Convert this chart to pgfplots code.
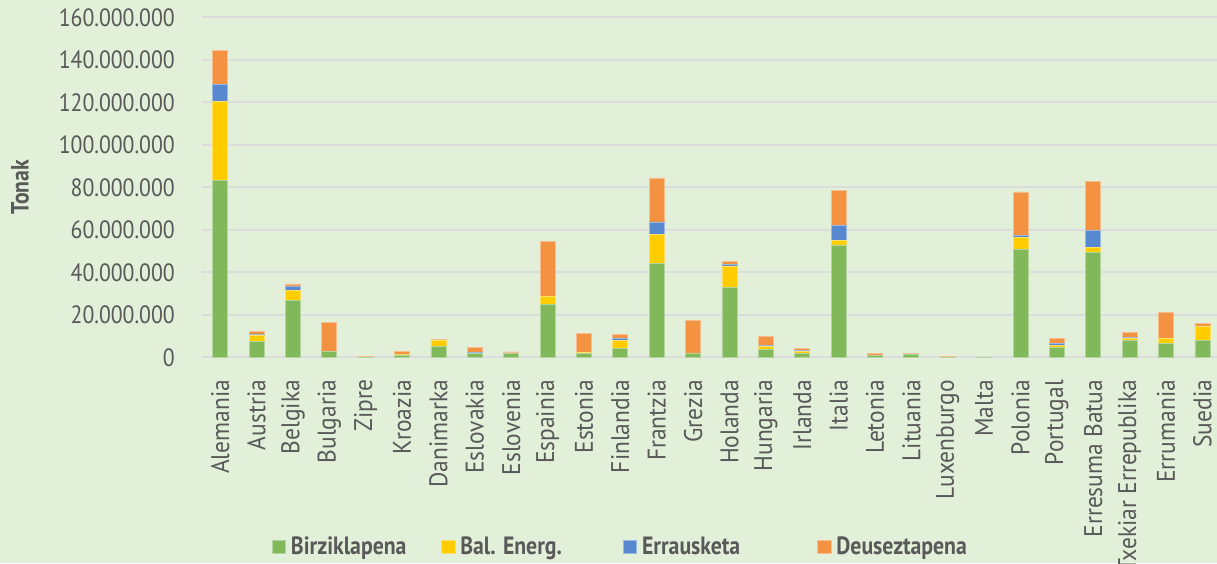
\documentclass[border=0pt]{standalone}
\usepackage{fontspec}
\setmainfont{PT Sans}[FakeStretch=0.87]
\newfontfamily\xlabfamily{PT Sans}[FakeStretch=0.92]
\usepackage{pgfplots}
\pgfplotsset{compat=1.18}
\usepackage{pgfplotstable}
\definecolor{bg}{HTML}{E2EFD9}
\definecolor{gridc}{HTML}{DCDCDC}
\definecolor{txt}{HTML}{595959}
\definecolor{cgreen}{HTML}{80B85A}
\definecolor{cyellow}{HTML}{FFCC00}
\definecolor{cblue}{HTML}{5888D0}
\definecolor{corange}{HTML}{F39341}
\newcommand\tfont{\fontsize{25}{30}\selectfont}
\newcommand\xfont{\xlabfamily\fontsize{25.5}{30}\selectfont}
\pgfplotstableread{
x g y b o
0 83.4 36.9 8.2 16.0
1 7.3 3.2 0.5 1.2
2 26.6 4.7 1.9 1.3
3 2.8 0.1 0.0 13.7
4 0.1 0.0 0.0 0.5
5 1.1 0.1 0.0 1.4
6 5.0 2.8 0.2 0.5
7 1.7 0.3 0.1 2.7
8 1.7 0.1 0.0 0.7
9 24.8 3.7 0.3 25.6
10 1.7 0.5 0.0 9.1
11 4.0 4.1 0.7 2.0
12 44.2 13.7 5.8 20.7
13 1.9 0.1 0.0 15.2
14 32.8 10.2 0.9 1.4
15 3.9 1.4 0.2 4.5
16 2.0 0.8 0.4 1.0
17 52.5 2.4 7.0 16.7
18 0.9 0.0 0.0 0.8
19 1.3 0.1 0.0 0.6
20 0.1 0.0 0.0 0.5
21 0.02 0.0 0.0 0.05
22 51.0 5.6 0.6 20.6
23 4.5 1.0 0.9 2.4
24 49.2 2.7 7.7 23.2
25 7.8 1.0 0.6 2.5
26 6.4 2.4 0.0 12.4
27 7.8 6.6 0.2 1.2
}\data
\begin{document}
\begin{tikzpicture}[x=1pt,y=1pt]
\fill[bg] (0,0) rectangle (1217,563);
\begin{axis}[
  at={(202pt,205.7pt)}, anchor=south west,
  scale only axis, width=1018.6pt, height=340pt,
  xmin=-0.5, xmax=27.5, ymin=0, ymax=160,
  ybar stacked, bar width=15pt,
  axis x line*=bottom, axis y line*=left,
  axis line style={draw=none},
  major tick style={draw=none},
  ymajorgrids, grid style={line width=2pt, gridc},
  ytick={0,20,...,160},
  yticklabels={0,20.000.000,40.000.000,60.000.000,80.000.000,100.000.000,120.000.000,140.000.000,160.000.000},
  xtick={0,...,27},
  xticklabels={Alemania,Austria,Belgika,Bulgaria,Zipre,Kroazia,Danimarka,Eslovakia,Eslovenia,Espainia,Estonia,Finlandia,Frantzia,Grezia,Holanda,Hungaria,Irlanda,Italia,Letonia,Lituania,Luxenburgo,Malta,Polonia,Portugal,Erresuma Batua,Txekiar Errepublika,Errumania,Suedia},
  tick label style={text=txt, inner sep=0pt},
  yticklabel style={font=\tfont},
  xticklabel style={rotate=90, anchor=east, font=\xfont},
  xticklabel shift=22.5pt,
  yticklabel shift=27pt,
  ylabel={\bfseries Tonak},
  every axis y label/.style={at={(axis description cs:-0.17868,0.5)}, rotate=90, anchor=center, font=\tfont, text=txt},
  legend columns=4,
  legend style={draw=none, fill=none, at={(axis description cs:0,0)}, anchor=west,
    xshift=69.5pt, yshift=-189.4pt, inner sep=0pt, column sep=0pt,
    nodes={inner sep=0pt, font=\tfont\bfseries, text=txt}},
  legend image code/.code={\fill (0pt,-6.75pt) rectangle (13.5pt,6.75pt); \path (18.5pt,0pt);},
]
\addplot[fill=cgreen, draw=cgreen!60!white, line width=0.8pt] table[x=x,y=g]{\data};
\addlegendentry{\makebox[150pt][l]{Birziklapena}}
\addplot[fill=cyellow, draw=cyellow!60!white, line width=0.8pt] table[x=x,y=y]{\data};
\addlegendentry{\makebox[162.5pt][l]{Bal. Energ.}}
\addplot[fill=cblue, draw=cblue!60!white, line width=0.8pt] table[x=x,y=b]{\data};
\addlegendentry{\makebox[175pt][l]{Errausketa}}
\addplot[fill=corange, draw=corange!60!white, line width=0.8pt] table[x=x,y=o]{\data};
\addlegendentry{Deuseztapena}
\end{axis}
\pgfresetboundingbox
\useasboundingbox (0,0) rectangle (1217,563);
\end{tikzpicture}
\end{document}
